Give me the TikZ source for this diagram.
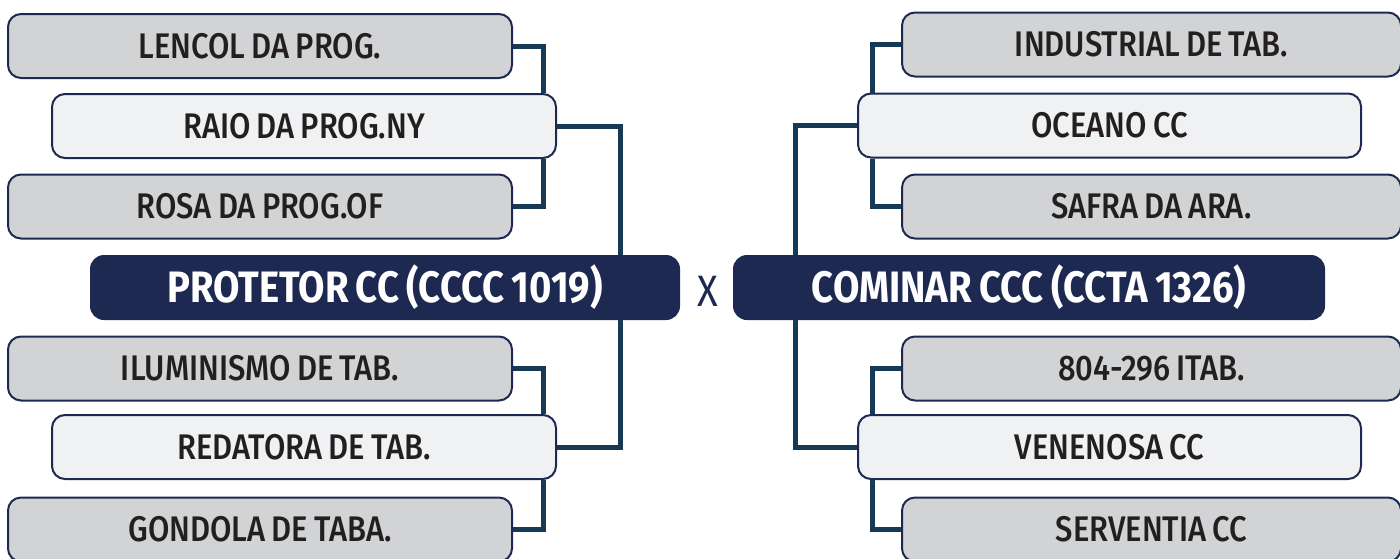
\documentclass[tikz,border=0pt]{standalone}
\usepackage{fontspec}
\setmainfont{Fira Sans}[FakeStretch=0.87,WordSpace=0.8,UprightFont=* Medium]
\newfontfamily\titlefont{Fira Sans}[FakeStretch=0.87,WordSpace=0.8,UprightFont=* Bold]
\newfontfamily\vsfont{Fira Sans}[FakeStretch=0.87]
\definecolor{navy}{HTML}{1E2952}
\definecolor{conncol}{HTML}{163A56}
\definecolor{grayfill}{HTML}{D1D3D4}
\definecolor{lightfill}{HTML}{F0F1F3}
\definecolor{txt}{HTML}{231F20}
\begin{document}
\begin{tikzpicture}[x=0.5pt,y=-0.5pt,
  box/.style={draw=navy, line width=1pt, rounded corners=6.5pt, minimum height=32pt,
    inner sep=0pt, text=txt, font=\fontsize{17.8}{19}\selectfont},
  graybox/.style={box, fill=grayfill, minimum width=252pt},
  lightbox/.style={box, fill=lightfill, minimum width=252pt},
  rgraybox/.style={box, fill=grayfill, minimum width=249.5pt},
  rlightbox/.style={box, fill=lightfill, minimum width=251.5pt},
  titlebox/.style={fill=navy, rounded corners=7pt, minimum height=32.5pt, inner sep=0pt,
    text=white, font=\titlefont\fontsize{22}{24}\selectfont},
  conn/.style={draw=conncol, line width=2.5pt}]
\useasboundingbox (0,0) rectangle (1400,558);
% left side
\node[graybox] (lencol) at (260,46) {\raisebox{-1pt}{LENCOL DA PROG.}};
\node[lightbox] (raio) at (304,126) {\raisebox{-1pt}{RAIO DA PROG.NY}};
\node[graybox] (rosa) at (260,206.5) {\raisebox{-1pt}{ROSA DA PROG.OF}};
\node[titlebox, minimum width=295pt] (prot) at (385,287.5) {\raisebox{-1pt}{PROTETOR CC (CCCC 1019)}};
\node[graybox] (ilum) at (260,368.5) {\raisebox{-1pt}{ILUMINISMO DE TAB.}};
\node[lightbox] (reda) at (304,447) {\raisebox{-1pt}{REDATORA DE TAB.}};
\node[graybox] (gond) at (260,529.5) {\raisebox{-1pt}{GONDOLA DE TABA.}};
% right side
\node[rgraybox] (indu) at (1151.5,44.5) {\raisebox{-1pt}{INDUSTRIAL DE TAB.}};
\node[rlightbox] (ocea) at (1109.5,125.5) {\raisebox{-1pt}{OCEANO CC}};
\node[rgraybox] (safr) at (1151.5,206.5) {\raisebox{-1pt}{SAFRA DA ARA.}};
\node[titlebox, minimum width=296pt] (comi) at (1029,287.5) {\raisebox{-1pt}{COMINAR CCC (CCTA 1326)}};
\node[rgraybox] (n804) at (1151.5,368.5) {\raisebox{-1pt}{804-296 ITAB.}};
\node[rlightbox] (vene) at (1109.5,447) {\raisebox{-1pt}{VENENOSA CC}};
\node[rgraybox] (serv) at (1151.5,529.5) {\raisebox{-1pt}{SERVENTIA CC}};
% vs
\node[text=navy, font=\vsfont\fontsize{22}{24}\selectfont] (vs) at (708,291) {X};
% junction coordinates
\coordinate (jl1) at (543,0);
\coordinate (jl0) at (620,0);
\coordinate (jr1) at (872,0);
\coordinate (jr0) at (795,0);
% left connectors
\draw[conn] (lencol.east) -| (jl1 |- raio.north);
\draw[conn] (rosa.east) -| (jl1 |- raio.south);
\draw[conn] (raio.east) -| (jl0 |- prot.north);
\draw[conn] (prot.south -| jl0) |- (reda.east);
\draw[conn] (ilum.east) -| (jl1 |- reda.north);
\draw[conn] (gond.east) -| (jl1 |- reda.south);
% right connectors
\draw[conn] (indu.west) -| (jr1 |- ocea.north);
\draw[conn] (safr.west) -| (jr1 |- ocea.south);
\draw[conn] (ocea.west) -| (jr0 |- comi.north);
\draw[conn] (comi.south -| jr0) |- (vene.west);
\draw[conn] (n804.west) -| (jr1 |- vene.north);
\draw[conn] (serv.west) -| (jr1 |- vene.south);
\end{tikzpicture}
\end{document}
